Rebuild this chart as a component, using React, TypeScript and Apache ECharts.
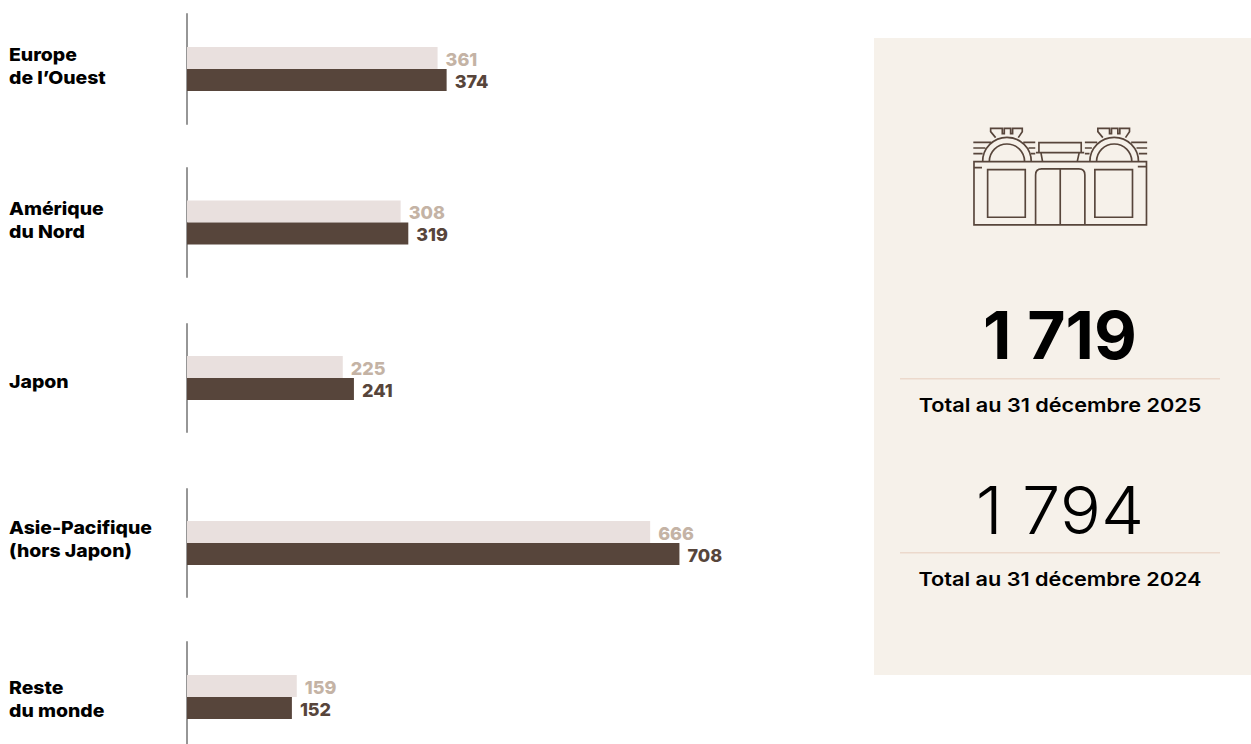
import React, { useEffect, useRef } from "react";
import * as echarts from "echarts";

const regions = ["Europe\nde l’Ouest", "Amérique\ndu Nord", "Japon", "Asie-Pacifique\n(hors Japon)", "Reste\ndu monde"];
const values2025 = [361, 308, 225, 666, 159];
const values2024 = [374, 319, 241, 708, 152];
const totals = ["1 719", "1 794"];
const totalLabels = ["Total au 31 décembre 2025", "Total au 31 décembre 2024"];
const rowTops = [14, 168, 324, 489, 642];
const rowHeights = [110, 109, 108, 108, 110];
const labelCenters = [66.5, 220, 382, 539.5, 699];

const FONT = "Inter";
const ICON =
  "M42 140H560V330H42Z M83 164H196V307H83Z M405 164H518V307H405Z " +
  "M227 330V180Q227 162 245 162H357Q375 162 375 180V330 M301 162V330 " +
  "M42 158H66 M534 155H560 " +
  "M68 140A73 73 0 0 1 214 140 M88 140A53 53 0 0 1 194 140 " +
  "M390 140A73 73 0 0 1 536 140 M410 140A53 53 0 0 1 516 140 " +
  "M107 68L92 50V40H127V56H133V40H152V56H158V40H187V50L175 68 " +
  "M429 68L414 50V40H449V56H455V40H474V56H480V40H509V50L497 68 " +
  "M40 82H94 M40 99H76 M40 116H68 M190 82H226 M206 99H226 M213 116H226 " +
  "M375 82H412 M375 99H396 M375 116H389 M514 82H562 M530 99H562 M537 116H562 " +
  "M237 112V83H364V112 M228 113H373 M243 113L248 140 M358 113L352 140";

echarts.graphic.registerShape("boutique", echarts.graphic.extendPath(ICON, {}));

export default function App() {
  const ref = useRef<HTMLDivElement>(null);
  useEffect(() => {
    const chart = echarts.init(ref.current!, undefined, { renderer: "svg" });
    const grid = rowTops.map((top, i) => ({ left: 187, top, width: 697, height: rowHeights[i], containLabel: false }));
    const xAxis = rowTops.map((_, i) => ({ type: "value", gridIndex: i, min: 1.5, max: 1001.5, show: false }));
    const yAxis = rowTops.map((_, i) => ({
      type: "category",
      gridIndex: i,
      inverse: true,
      data: [regions[i]],
      axisTick: { show: false },
      axisLine: { show: true, lineStyle: { color: "#969696", width: 2 } },
      axisLabel: { show: false },
    }));
    const barLabel = (color: string) => ({
      show: true,
      position: "right",
      distance: 8,
      offset: [0, 1],
      color,
      fontFamily: FONT,
      fontWeight: 800,
      fontSize: 18,
    });
    const series: any[] = [];
    rowTops.forEach((_, i) => {
      series.push({
        type: "bar",
        xAxisIndex: i,
        yAxisIndex: i,
        barWidth: 22,
        barGap: 0,
        data: [values2025[i]],
        itemStyle: { color: "#e9e0de" },
        label: barLabel("#c4b3a5"),
      });
      series.push({
        type: "bar",
        xAxisIndex: i,
        yAxisIndex: i,
        barWidth: 22,
        barGap: 0,
        data: [values2024[i]],
        itemStyle: { color: "#57453b" },
        label: barLabel("#57453b"),
      });
    });
    const centerText = (text: string, y: number, size: number, weight: number, scaleX: number) => ({
      type: "text",
      x: 1060,
      y,
      z: 5,
      scaleX,
      style: { text, fill: "#000", font: `${weight} ${size}px ${FONT}`, textAlign: "center", textVerticalAlign: "middle" },
    });
    const regionLabels = regions.map((text, i) => ({
      type: "text",
      x: 9,
      y: labelCenters[i],
      z: 5,
      scaleX: 1.08,
      style: {
        text,
        fill: "#000",
        font: `800 18px ${FONT}`,
        lineHeight: 23,
        textAlign: "left",
        textVerticalAlign: "middle",
      },
    }));
    chart.setOption({
      animation: false,
      backgroundColor: "#fff",
      grid,
      xAxis,
      yAxis,
      series,
      graphic: [
        { type: "rect", x: 874, y: 38, z: 1, shape: { width: 377, height: 637 }, style: { fill: "#f6f1ea" } },
        { type: "rect", x: 900, y: 378, z: 2, shape: { width: 320, height: 1.5 }, style: { fill: "#ecd9cc" } },
        { type: "rect", x: 900, y: 552, z: 2, shape: { width: 320, height: 1.5 }, style: { fill: "#ecd9cc" } },
        {
          type: "boutique",
          x: 960,
          y: 115,
          z: 3,
          scaleX: 1 / 3,
          scaleY: 1 / 3,
          style: { fill: "none", stroke: "#57453b", lineWidth: 5 },
        },
        ...regionLabels,
        centerText(totals[0], 335, 66, 700, 1),
        centerText(totalLabels[0], 405, 19, 600, 1.14),
        centerText(totals[1], 510, 66, 300, 1.04),
        centerText(totalLabels[1], 579, 19, 600, 1.14),
      ],
    });
    return () => chart.dispose();
  }, []);
  // The last row's axis runs past the window's lower edge, so the chart is a little taller than the window.
  return <div ref={ref} style={{ position: "fixed", left: 0, top: 0, width: 1251, height: 760 }} />;
}
